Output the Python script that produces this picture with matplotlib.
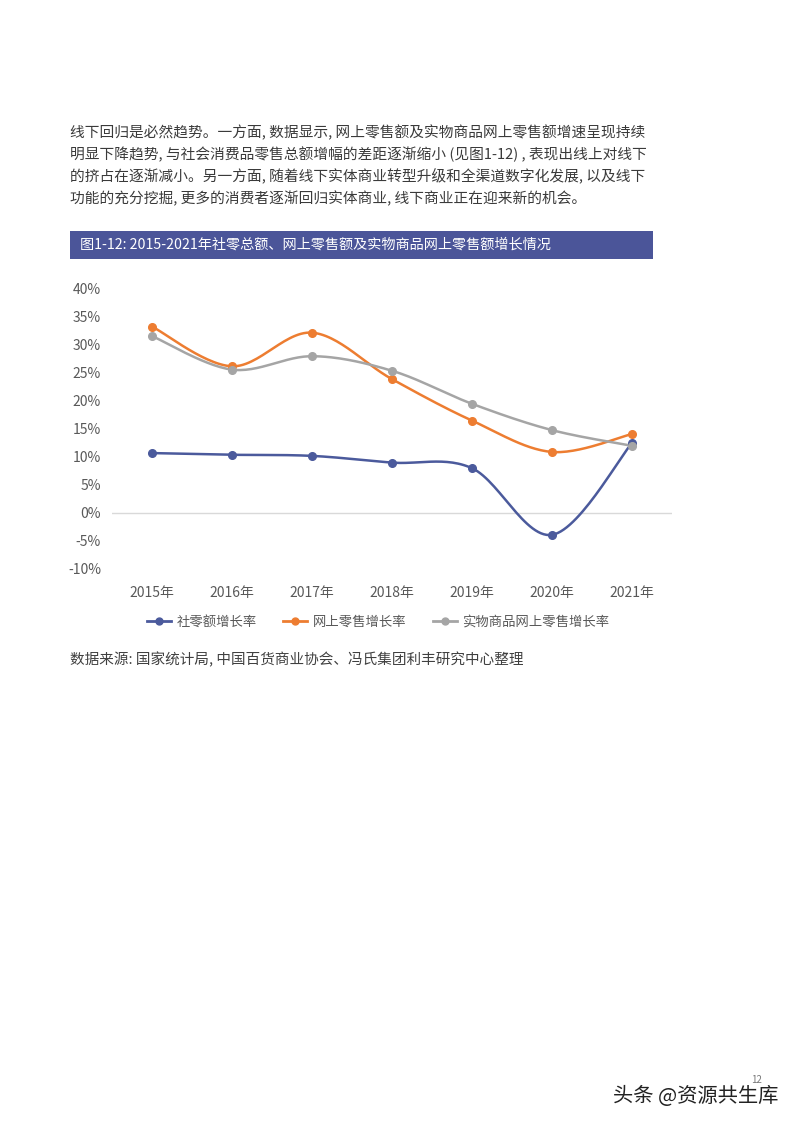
import numpy as np
import matplotlib.pyplot as plt
from matplotlib.patches import Rectangle
from matplotlib.lines import Line2D

plt.rcParams['font.family'] = ['Noto Sans CJK SC', 'DejaVu Sans']

years = ['2015年', '2016年', '2017年', '2018年', '2019年', '2020年', '2021年']
retail_total = [10.7, 10.4, 10.2, 9.0, 8.0, -3.9, 12.5]
online_retail = [33.3, 26.2, 32.2, 23.9, 16.5, 10.9, 14.1]
online_goods = [31.6, 25.6, 28.0, 25.4, 19.5, 14.8, 12.0]
series_names = ['社零额增长率', '网上零售增长率', '实物商品网上零售增长率']
colors = ['#4b5a9c', '#ed7d31', '#a5a5a5']

paragraph = [
    '线下回归是必然趋势。一方面, 数据显示, 网上零售额及实物商品网上零售额增速呈现持续',
    '明显下降趋势, 与社会消费品零售总额增幅的差距逐渐缩小 (见图1-12) , 表现出线上对线下',
    '的挤占在逐渐减小。另一方面, 随着线下实体商业转型升级和全渠道数字化发展, 以及线下',
    '功能的充分挖掘, 更多的消费者逐渐回归实体商业, 线下商业正在迎来新的机会。',
]
title = '图1-12: 2015-2021年社零总额、网上零售额及实物商品网上零售额增长情况'
source = '数据来源: 国家统计局, 中国百货商业协会、冯氏集团利丰研究中心整理'


def smooth(y, n=30):
    # Excel-like smoothed line: cubic Bezier with Catmull-Rom control points
    y = np.asarray(y, float)
    x = np.arange(len(y), dtype=float)
    pts = np.column_stack([x, y])
    out = []
    for i in range(len(pts) - 1):
        p0 = pts[max(i - 1, 0)]
        p1 = pts[i]
        p2 = pts[i + 1]
        p3 = pts[min(i + 2, len(pts) - 1)]
        c1 = p1 + (p2 - p0) / 6
        c2 = p2 - (p3 - p1) / 6
        t = np.linspace(0, 1, n)[:, None]
        seg = ((1 - t) ** 3) * p1 + 3 * ((1 - t) ** 2) * t * c1 + 3 * (1 - t) * t ** 2 * c2 + t ** 3 * p2
        out.append(seg if i == 0 else seg[1:])
    seg = np.vstack(out)
    return seg[:, 0], seg[:, 1]


W, H = 794, 1123
fig = plt.figure(figsize=(W / 100, H / 100), dpi=100)

# paragraph text
for i, line in enumerate(paragraph):
    fig.text(70 / W, 1 - (133 + i * 21.7) / H, line, fontsize=10.6, color='#3a3a3a',
             va='center', ha='left')

# title bar
fig.patches.append(Rectangle((70 / W, 1 - 259 / H), (653 - 70) / W, 28 / H,
                             transform=fig.transFigure, facecolor='#4b5599',
                             edgecolor='none'))
fig.text(80 / W, 1 - 245 / H, title, fontsize=10.2, color='white', va='center', ha='left')

# chart
ax = fig.add_axes([112 / W, 1 - 569 / H, 560 / W, 280 / H])
x = np.arange(len(years))
for vals, c in zip([retail_total, online_retail, online_goods], colors):
    sx, sy = smooth(vals)
    ax.plot(sx, sy, color=c, lw=1.8, solid_capstyle='round', zorder=3)
    ax.plot(x, vals, 'o', color=c, ms=5.5, zorder=4)

ax.set_xlim(-0.5, len(years) - 0.5)
ax.set_ylim(-10, 40)
ax.set_yticks(np.arange(-10, 41, 5))
ax.set_yticklabels([f'{v}%' for v in range(-10, 41, 5)])
ax.set_xticks(x)
ax.set_xticklabels(years)
ax.axhline(0, color='#d9d9d9', lw=1, zorder=1)
for s in ax.spines.values():
    s.set_visible(False)
ax.tick_params(length=0, labelsize=10, colors='#595959')
ax.tick_params(axis='x', pad=12)
ax.tick_params(axis='y', pad=8)

handles = [Line2D([], [], color=c, lw=2, marker='o', ms=5) for c in colors]
fig.legend(handles, series_names, loc='center', bbox_to_anchor=(378 / W, 1 - 622 / H),
           ncol=3, frameon=False, fontsize=9.6, labelcolor='#595959',
           handlelength=1.8, handletextpad=0.4, columnspacing=2.0)

fig.text(70 / W, 1 - 660 / H, source, fontsize=10.5, color='#404040', style='italic',
         va='center', ha='left')

# footer
fig.text(757 / W, 1 - 1080 / H, '12', fontsize=7, color='#777777', va='center', ha='center')
fig.text(778 / W, 1 - 1096 / H, '头条 @资源共生库', fontsize=14.6, color='#222222',
         va='center', ha='right')

fig.savefig('out.png', dpi=100, facecolor='white')
